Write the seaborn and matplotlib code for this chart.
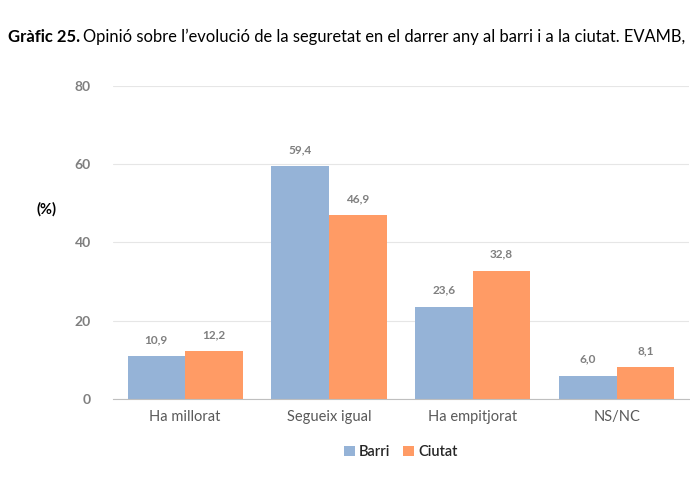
import pandas as pd
import numpy as np
import seaborn as sns
import matplotlib.pyplot as plt

categories = ["Ha millorat", "Segueix igual", "Ha empitjorat", "NS/NC"]
barri = [10.9, 59.4, 23.6, 6.0]
ciutat = [12.2, 46.9, 32.8, 8.1]
series = ["Barri", "Ciutat"]
colors = ["#95B3D7", "#FF9B65"]

df = pd.DataFrame({
    "categoria": categories * 2,
    "valor": barri + ciutat,
    "serie": ["Barri"] * len(categories) + ["Ciutat"] * len(categories),
})

sns.set_style("white")
plt.rcParams["font.family"] = ["Lato", "DejaVu Sans"]

fig = plt.figure(figsize=(6.9, 4.82), dpi=100)
ax = fig.add_axes([0.164, 0.172, 0.834, 0.65])

sns.barplot(data=df, x="categoria", y="valor", hue="serie", palette=colors,
            hue_order=series, width=0.8, saturation=1, linewidth=0, ax=ax, legend=True)

ax.set_ylim(0, 80)
ax.set_yticks([0, 20, 40, 60, 80])
ax.yaxis.grid(True, color="#E6E6E6", linewidth=0.8)
ax.set_axisbelow(True)
for s in ["top", "right", "left"]:
    ax.spines[s].set_visible(False)
ax.spines["bottom"].set_color("#BFBFBF")
ax.set_xlim(-0.5, 3.5)

# separadors entre categories
ax.set_xticks(np.arange(-0.5, 4, 1), minor=True)
ax.tick_params(axis="x", which="minor", length=5, color="#BFBFBF", width=0.8)
ax.tick_params(axis="x", which="major", length=0, labelsize=10.5,
               labelcolor="#595959", pad=8)
ax.tick_params(axis="y", length=0, labelsize=10, labelcolor="#7F7F7F", pad=16)
for lab in ax.get_yticklabels():
    lab.set_fontweight("bold")

ax.set_xlabel("")
ax.set_ylabel("")

for cont in ax.containers:
    ax.bar_label(cont, labels=[f"{v:.1f}".replace(".", ",") for v in cont.datavalues],
                 padding=8, fontsize=8.5, fontweight="bold", color="#7F7F7F")

leg = ax.legend(loc="upper center", bbox_to_anchor=(0.5, -0.105), ncol=2,
                frameon=False, fontsize=10.5, handlelength=0.7, handleheight=0.7,
                handletextpad=0.3, columnspacing=0.9)
for t in leg.get_texts():
    t.set_color("#262626")
    t.set_fontweight("semibold")

fig.text(0.053, 0.565, "(%)", fontsize=10.5, fontweight="bold", color="#000000",
         ha="left", va="center")

fig.text(0.012, 0.923, "Gràfic 25.", fontsize=12, fontweight="bold",
         color="#000000", ha="left", va="center")
fig.text(0.121, 0.923,
         "Opinió sobre l’evolució de la seguretat en el darrer any al barri i a la ciutat. EVAMB,",
         fontsize=11.9, color="#000000", ha="left", va="center")

fig.savefig("out.png", dpi=100)
